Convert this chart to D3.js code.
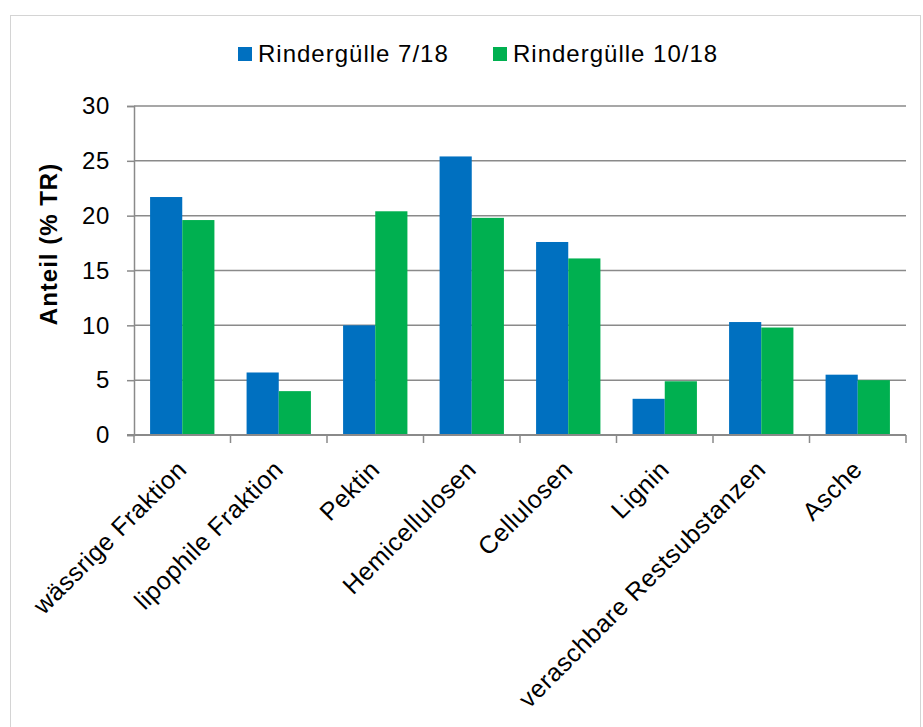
<!DOCTYPE html>
<html>
<head>
<meta charset="utf-8">
<script src="https://cdn.jsdelivr.net/npm/d3@7"></script>
<style>
  html, body { margin: 0; padding: 0; background: #fff; }
  text { font-family: Arial, "Liberation Sans", Helvetica, sans-serif; fill: #000; }
</style>
</head>
<body>
<svg id="chart" width="923" height="727"></svg>
<script>
const categories = ["wässrige Fraktion", "lipophile Fraktion", "Pektin", "Hemicellulosen",
  "Cellulosen", "Lignin", "veraschbare Restsubstanzen", "Asche"];
const seriesNames = ["Rindergülle 7/18", "Rindergülle 10/18"];
const values0718 = [21.7, 5.7, 10.0, 25.4, 17.6, 3.3, 10.3, 5.5];
const values1018 = [19.6, 4.0, 20.4, 19.8, 16.1, 4.9, 9.8, 5.0];
const yTicks = [0, 5, 10, 15, 20, 25, 30];
const yTitle = "Anteil (% TR)";
const colors = ["#0070C0", "#00B050"];

(function () {
const svg = d3.select("#chart");
const pLeft = 134, pRight = 906, pTop = 106, pBottom = 435;
const gridColor = "#8a8a8a";

// outer frame
svg.append("rect").attr("x", 10.5).attr("y", 15.5).attr("width", 910).attr("height", 760)
  .attr("fill", "none").attr("stroke", "#d4d4d4").attr("stroke-width", 1);

const x0 = d3.scaleBand().domain(categories).range([pLeft, pRight]).padding(0);
const step = x0.step();
const x1 = d3.scaleBand().domain(seriesNames).range([step / 6, step * 5 / 6]).padding(0);
const y = d3.scaleLinear().domain([0, 30]).range([pBottom, pTop]);

// gridlines
svg.append("g").selectAll("line").data(yTicks.filter(d => d > 0)).join("line")
  .attr("x1", pLeft).attr("x2", pRight)
  .attr("y1", d => y(d)).attr("y2", d => y(d))
  .attr("stroke", gridColor).attr("stroke-width", 1.5);

// y axis
const yAxis = d3.axisLeft(y).tickValues(yTicks).tickSize(7).tickPadding(17);
const gy = svg.append("g").attr("transform", `translate(${pLeft},0)`).call(yAxis);
gy.select(".domain").attr("stroke", gridColor).attr("stroke-width", 1.5);
gy.selectAll(".tick line").attr("stroke", gridColor).attr("stroke-width", 1.5);
gy.selectAll(".tick text").attr("font-size", 24).style("letter-spacing", "0.6px")
  .attr("font-family", "Arial, 'Liberation Sans', sans-serif").attr("fill", "#000");

// bars
const data = categories.map((c, i) => ({ cat: c, vals: [values0718[i], values1018[i]] }));
const groups = svg.append("g").selectAll("g").data(data).join("g")
  .attr("transform", d => `translate(${x0(d.cat)},0)`);
groups.selectAll("rect").data(d => d.vals.map((v, j) => ({ v, s: seriesNames[j], j }))).join("rect")
  .attr("x", d => x1(d.s)).attr("width", x1.bandwidth())
  .attr("y", d => y(d.v)).attr("height", d => y(0) - y(d.v))
  .attr("fill", d => colors[d.j]);

// x axis
const xAxisG = svg.append("g");
xAxisG.append("line").attr("x1", pLeft - 7).attr("x2", pRight).attr("y1", pBottom).attr("y2", pBottom)
  .attr("stroke", gridColor).attr("stroke-width", 2);
const boundaries = categories.map(c => x0(c)).concat([pRight]);
xAxisG.selectAll("line.tk").data(boundaries).join("line").attr("class", "tk")
  .attr("x1", d => d).attr("x2", d => d).attr("y1", pBottom).attr("y2", pBottom + 8)
  .attr("stroke", gridColor).attr("stroke-width", 1.5);

// x labels
svg.append("g").selectAll("text").data(categories).join("text")
  .attr("transform", d => `translate(${x0(d) + step / 2 + 6},${pBottom + 36}) rotate(-45)`)
  .attr("text-anchor", "end").attr("font-size", 25).style("letter-spacing", "0.5px")
  .text(d => d);

// y title
svg.append("text")
  .attr("transform", `translate(57,244) rotate(-90)`)
  .attr("text-anchor", "middle").attr("font-size", 24).attr("font-weight", "bold")
  .style("letter-spacing", "1px")
  .text(yTitle);

// legend
const legendX = [238, 493];
const lg = svg.append("g").selectAll("g").data(seriesNames).join("g")
  .attr("transform", (d, i) => `translate(${legendX[i]},0)`);
lg.append("rect").attr("x", 0).attr("y", 47).attr("width", 14).attr("height", 14)
  .attr("fill", (d, i) => colors[i]);
lg.append("text").attr("x", 20).attr("y", 62).attr("font-size", 24)
  .style("letter-spacing", "1px").text(d => d);
})();
</script>
</body>
</html>
